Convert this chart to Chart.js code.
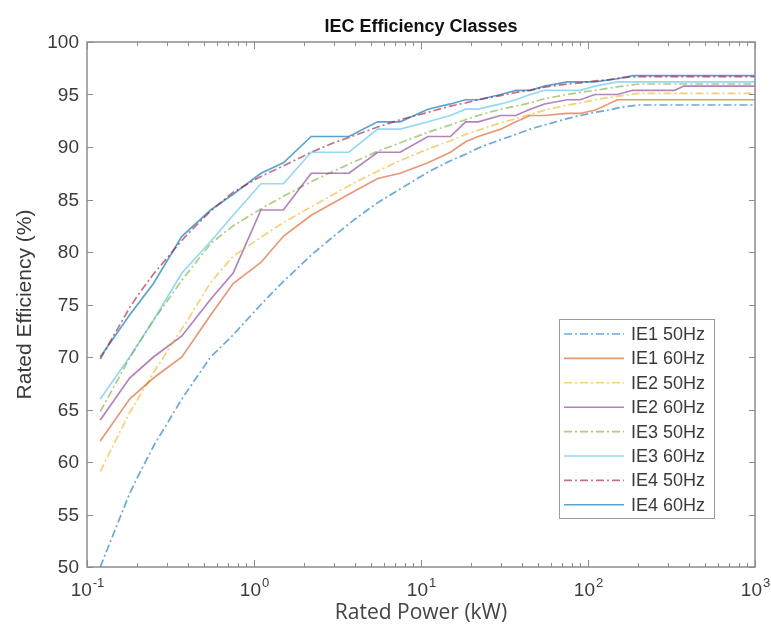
<!DOCTYPE html>
<html>
<head>
<meta charset="utf-8">
<title>IEC Efficiency Classes</title>
<script src="https://cdn.jsdelivr.net/npm/chart.js@4.4.1/dist/chart.umd.min.js"></script>
<style>
  html, body { margin: 0; padding: 0; background: #fff; }
  #wrap { width: 771px; height: 630px; position: relative; }
</style>
</head>
<body>
<div id="wrap"><canvas id="grafico"></canvas></div>
<script>
// potencias nominais (kW) - tabela 50 Hz e tabela 60 Hz
const power50 = [0.12, 0.18, 0.2, 0.25, 0.37, 0.4, 0.55, 0.75, 1.1, 1.5, 2.2, 3, 4, 5.5, 7.5, 11, 15, 18.5, 22, 30, 37, 45, 55, 75, 90, 110, 132, 160, 200, 1000];
const power60 = [0.12, 0.18, 0.25, 0.37, 0.55, 0.75, 1.1, 1.5, 2.2, 3.7, 5.5, 7.5, 11, 15, 18.5, 22, 30, 37, 45, 55, 75, 90, 110, 150, 185, 330, 375, 1000];

// rendimento nominal (%) por classe
const ie1_50 = [50.0, 57.0, 58.5, 61.5, 66.0, 66.8, 70.0, 72.1, 75.0, 77.2, 79.7, 81.5, 83.1, 84.7, 86.0, 87.6, 88.7, 89.3, 89.9, 90.7, 91.2, 91.7, 92.1, 92.7, 93.0, 93.3, 93.5, 93.8, 94.0, 94.0];
const ie2_50 = [59.1, 64.7, 65.9, 68.5, 72.7, 73.5, 77.1, 79.6, 81.4, 82.8, 84.3, 85.5, 86.6, 87.7, 88.7, 89.8, 90.6, 91.2, 91.6, 92.3, 92.7, 93.1, 93.5, 94.0, 94.2, 94.5, 94.7, 94.9, 95.1, 95.1];
const ie3_50 = [64.8, 69.9, 71.1, 73.5, 77.3, 78.0, 80.8, 82.5, 84.1, 85.3, 86.7, 87.7, 88.6, 89.6, 90.4, 91.4, 92.1, 92.6, 93.0, 93.6, 93.9, 94.2, 94.6, 95.0, 95.2, 95.4, 95.6, 95.8, 96.0, 96.0];
const ie4_50 = [69.8, 74.7, 75.8, 77.9, 81.1, 81.7, 83.9, 85.7, 87.2, 88.2, 89.5, 90.4, 91.1, 91.9, 92.6, 93.3, 93.9, 94.2, 94.5, 94.9, 95.2, 95.4, 95.7, 96.0, 96.1, 96.3, 96.4, 96.6, 96.7, 96.7];

const ie1_60 = [62.0, 66.0, 68.0, 70.0, 74.0, 77.0, 79.0, 81.5, 83.5, 85.5, 87.0, 87.5, 88.5, 89.5, 90.5, 91.0, 91.7, 92.4, 93.0, 93.0, 93.2, 93.2, 93.5, 94.5, 94.5, 94.5, 94.5, 94.5];
const ie2_60 = [64.0, 68.0, 70.0, 72.0, 75.5, 78.0, 84.0, 84.0, 87.5, 87.5, 89.5, 89.5, 91.0, 91.0, 92.4, 92.4, 93.0, 93.0, 93.6, 94.1, 94.5, 94.5, 95.0, 95.0, 95.4, 95.4, 95.8, 95.8];
const ie3_60 = [66.0, 70.0, 73.5, 78.0, 81.0, 83.5, 86.5, 86.5, 89.5, 89.5, 91.7, 91.7, 92.4, 93.0, 93.6, 93.6, 94.1, 94.5, 95.0, 95.4, 95.4, 95.4, 95.8, 96.2, 96.2, 96.2, 96.2, 96.2];
const ie4_60 = [70.0, 74.0, 77.0, 81.5, 84.0, 85.5, 87.5, 88.5, 91.0, 91.0, 92.4, 92.4, 93.6, 94.1, 94.5, 94.5, 95.0, 95.4, 95.4, 95.8, 96.2, 96.2, 96.2, 96.5, 96.8, 96.8, 96.8, 96.8];

const seriesLabels = ['IE1 50Hz', 'IE1 60Hz', 'IE2 50Hz', 'IE2 60Hz', 'IE3 50Hz', 'IE3 60Hz', 'IE4 50Hz', 'IE4 60Hz'];

// eixos
const xTicks = [0.1, 1, 10, 100, 1000];
const xExpoentes = ['-1', '0', '1', '2', '3'];
const yTicks = [50, 55, 60, 65, 70, 75, 80, 85, 90, 95, 100];

const traco = [8, 3, 2, 3]; // linha traco-ponto

function pontos(xs, ys) {
    return xs.map((p, i) => ({ x: p, y: ys[i] }));
}

function serie(label, xs, ys, cor, pontilhado) {
    return {
        label: label,
        data: pontos(xs, ys),
        borderColor: cor,
        borderWidth: 1.7,
        borderDash: pontilhado ? traco : [],
        pointRadius: 0,
        tension: 0,
        fill: false
    };
}

// desenha a caixa dos eixos, marcas, rotulos, titulos e legenda
const eixosPlugin = {
    id: 'eixosMatlab',
    afterDraw(chart) {
        const ctx = chart.ctx;
        const a = chart.chartArea;
        const sx = chart.scales.x;
        const sy = chart.scales.y;
        const corEixo = '#8c8c8c';
        const corTexto = '#3a3a3a';

        ctx.save();
        ctx.strokeStyle = corEixo;
        ctx.lineWidth = 1.5;
        ctx.strokeRect(a.left, a.top, a.right - a.left, a.bottom - a.top);

        // marcas em y
        ctx.lineWidth = 1;
        yTicks.forEach(v => {
            const py = Math.round(sy.getPixelForValue(v)) + 0.5;
            ctx.beginPath();
            ctx.moveTo(a.left, py); ctx.lineTo(a.left + 6, py);
            ctx.moveTo(a.right, py); ctx.lineTo(a.right - 6, py);
            ctx.stroke();
        });

        // marcas em x (principais e secundarias)
        xTicks.forEach((d, k) => {
            for (let m = 1; m <= 9; m++) {
                if (k === xTicks.length - 1 && m > 1) break;
                const px = Math.round(sx.getPixelForValue(d * m)) + 0.5;
                const len = m === 1 ? 7 : 4;
                ctx.beginPath();
                ctx.moveTo(px, a.bottom); ctx.lineTo(px, a.bottom - len);
                ctx.moveTo(px, a.top); ctx.lineTo(px, a.top + len);
                ctx.stroke();
            }
        });

        // rotulos de y
        ctx.fillStyle = corTexto;
        ctx.font = '19px "Liberation Sans", Arial, sans-serif';
        ctx.textAlign = 'right';
        ctx.textBaseline = 'middle';
        yTicks.forEach(v => {
            ctx.fillText(String(v), a.left - 8, sy.getPixelForValue(v) + 1);
        });

        // rotulos de x: 10 com expoente
        ctx.textBaseline = 'alphabetic';
        xTicks.forEach((d, k) => {
            const px = sx.getPixelForValue(d);
            ctx.font = '19px "Liberation Sans", Arial, sans-serif';
            const wBase = ctx.measureText('10').width;
            ctx.font = '13px "Liberation Sans", Arial, sans-serif';
            const wExp = ctx.measureText(xExpoentes[k]).width;
            const inicio = px - (wBase + wExp) / 2;
            ctx.textAlign = 'left';
            ctx.font = '19px "Liberation Sans", Arial, sans-serif';
            ctx.fillText('10', inicio, a.bottom + 29);
            ctx.font = '13px "Liberation Sans", Arial, sans-serif';
            ctx.fillText(xExpoentes[k], inicio + wBase + 1, a.bottom + 20);
        });

        // titulo
        const cx = (a.left + a.right) / 2;
        ctx.fillStyle = '#111';
        ctx.textAlign = 'center';
        ctx.font = 'bold 18px "Liberation Sans", Arial, sans-serif';
        ctx.fillText('IEC Efficiency Classes', cx, a.top - 10);

        // titulo do eixo x
        ctx.fillStyle = '#444';
        ctx.font = '21px "Open Sans", "Noto Sans", sans-serif';
        ctx.fillText('Rated Power (kW)', cx, a.bottom + 52);

        // titulo do eixo y
        ctx.save();
        ctx.translate(31, (a.top + a.bottom) / 2);
        ctx.rotate(-Math.PI / 2);
        ctx.fillStyle = corTexto;
        ctx.font = '21px "Liberation Sans", Arial, sans-serif';
        ctx.fillText('Rated Efficiency (%)', 0, 0);
        ctx.restore();

        // legenda
        const lx = a.right - 196, ly = a.bottom - 248, lw = 155, lh = 199;
        ctx.fillStyle = '#fff';
        ctx.fillRect(lx, ly, lw, lh);
        ctx.strokeStyle = '#9a9a9a';
        ctx.lineWidth = 1;
        ctx.strokeRect(lx + 0.5, ly + 0.5, lw, lh);
        ctx.textAlign = 'left';
        ctx.textBaseline = 'middle';
        ctx.font = '18px "Liberation Sans", Arial, sans-serif';
        chart.data.datasets.forEach((ds, i) => {
            const y = ly + 15 + i * 24.4;
            ctx.strokeStyle = ds.borderColor;
            ctx.lineWidth = 1.6;
            ctx.setLineDash(ds.borderDash || []);
            ctx.beginPath();
            ctx.moveTo(lx + 5, y); ctx.lineTo(lx + 65, y);
            ctx.stroke();
            ctx.setLineDash([]);
            ctx.fillStyle = corTexto;
            ctx.fillText(ds.label, lx + 72, y + 1);
        });
        ctx.restore();
    }
};

const ctx = document.getElementById('grafico');

new Chart(ctx, {
    type: 'line',
    data: {
        datasets: [
            serie(seriesLabels[0], power50, ie1_50, 'rgba(0, 114, 189, 0.6)', true),
            serie(seriesLabels[1], power60, ie1_60, 'rgba(217, 83, 25, 0.6)', false),
            serie(seriesLabels[2], power50, ie2_50, 'rgba(237, 177, 32, 0.6)', true),
            serie(seriesLabels[3], power60, ie2_60, 'rgba(126, 47, 142, 0.6)', false),
            serie(seriesLabels[4], power50, ie3_50, 'rgba(119, 172, 48, 0.6)', true),
            serie(seriesLabels[5], power60, ie3_60, 'rgba(77, 190, 238, 0.6)', false),
            serie(seriesLabels[6], power50, ie4_50, 'rgba(162, 20, 47, 0.6)', true),
            serie(seriesLabels[7], power60, ie4_60, 'rgba(0, 114, 189, 0.65)', false)
        ]
    },
    options: {
        responsive: true,
        maintainAspectRatio: false,
        animation: false,
        layout: { padding: { left: 87, right: 16, top: 42, bottom: 63 } },
        plugins: {
            legend: { display: false },
            tooltip: { enabled: false }
        },
        scales: {
            x: { type: 'logarithmic', min: 0.1, max: 1000, display: false },
            y: { type: 'linear', min: 50, max: 100, display: false }
        }
    },
    plugins: [eixosPlugin]
});
</script>
</body>
</html>
